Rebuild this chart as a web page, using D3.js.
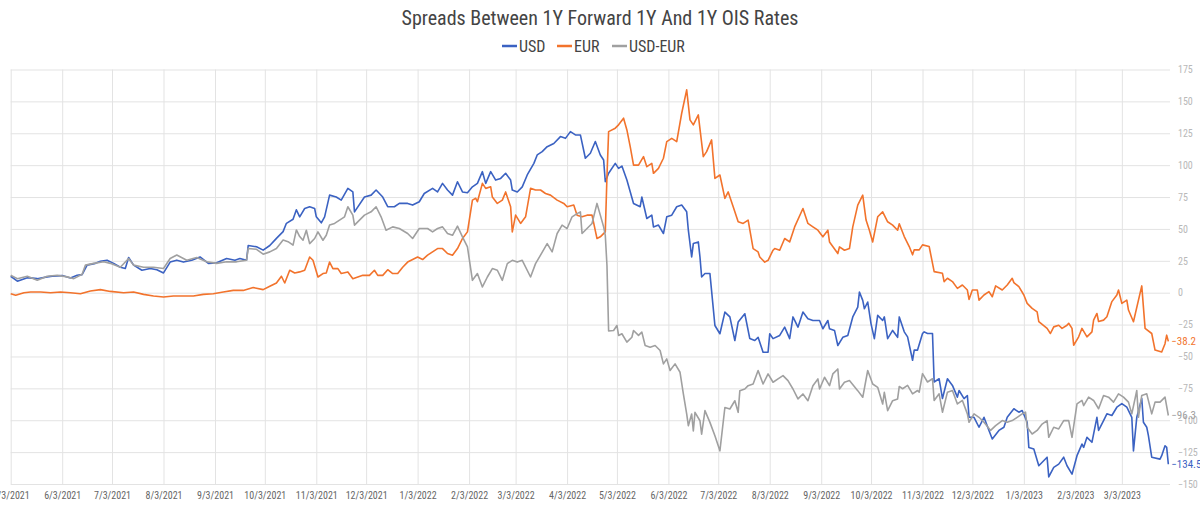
<!DOCTYPE html>
<html>
<head>
<meta charset="utf-8">
<script src="https://cdn.jsdelivr.net/npm/d3@7"></script>
<style>
  body { margin: 0; background: #fff; }
  text { font-family: "Roboto Condensed", "Liberation Sans Narrow", "DejaVu Sans Condensed", Roboto, sans-serif; }
</style>
</head>
<body>
<div class="section"></div>
<script>
// day offsets are counted from 3 May 2021
var startDay = new Date(2021, 4, 3);
var endDay = new Date(2023, 3, 1);

var seriesNames = ["USD", "EUR", "USD-EUR"];
var seriesColors = ["#3b62c2", "#f2732c", "#a0a0a0"];
var yTicks = [-150, -125, -100, -75, -50, -25, 0, 25, 50, 75, 100, 125, 150, 175];

// [day, bp]
var usd = [[0,12.9],[4,9],[10,11.8],[16,11],[22,12.4],[25,13],[31,13.4],[36,11.6],[40,13.7],[43,14.2],[46,21.6],[51,23],[54,24.7],[58,25.5],[62,23],[66,20],[69,19],[71,27.6],[74,21.6],[79,17.6],[84,19],[88,18],[92,15.5],[96,24],[100,25.5],[104,24],[109,25.5],[114,28],[119,23],[124,23.4],[130,26.8],[135,25.5],[138,26.8],[142,25.5],[143,37],[148,36],[152,33.4],[156,37],[160,42.6],[164,47.9],[166,54.4],[170,57.6],[172,65],[174,59.5],[177,66],[180,67.4],[183,66],[184,59.5],[187,54.8],[189,59.5],[192,76.5],[196,75],[199,72.6],[203,81.8],[206,79],[207,63.4],[213,75],[217,76.5],[220,80.5],[224,75],[227,67.4],[231,67.4],[234,70],[239,70],[242,68.7],[246,71.3],[249,77.8],[254,81.8],[257,79],[260,85.7],[263,80.5],[266,76.5],[269,87],[272,79],[275,78.4],[278,83],[281,85.7],[284,94.9],[286,85.7],[289,94.9],[292,88.3],[295,89.6],[298,93.6],[301,88.3],[302,80.5],[305,79],[308,83],[311,92.3],[315,101.4],[317,108],[320,110.6],[323,114.5],[327,117],[331,122.4],[334,121],[337,126.3],[340,123.7],[343,123.7],[346,105.4],[349,109.3],[352,118.5],[355,108],[357,104],[358,87],[360,93.6],[364,101.4],[366,97.5],[368,99.3],[371,88.3],[375,70],[379,67.4],[380,75],[383,58.2],[386,60.8],[387,51.6],[390,53],[393,46.4],[395,59.5],[398,60.8],[401,67.4],[404,68.7],[407,63.4],[408,49],[410,28],[411,38.5],[414,39.8],[415,28],[416,12.3],[418,15],[421,15],[424,-25.7],[427,-32.2],[430,-15.2],[433,-19],[436,-37.5],[438,-23],[442,-16.5],[445,-36],[448,-37.5],[450,-35],[453,-46.7],[456,-46.7],[457,-32.2],[459,-36],[463,-33.5],[466,-27],[469,-36],[471,-19],[474,-27],[477,-15.2],[480,-20.4],[483,-21.8],[487,-21.8],[489,-28.3],[492,-21.8],[493,-28.3],[496,-29.6],[498,-41.4],[501,-35],[504,-33.5],[507,-19],[510,-11.3],[511,0.5],[513,-6],[514,-12.6],[516,-7.3],[518,-24.4],[520,-36],[522,-17.8],[525,-21.8],[526,-19],[528,-36],[531,-29.6],[534,-35],[535,-19],[538,-30.7],[540,-34.6],[543,-53],[544,-45],[546,-45],[549,-32],[550,-30.7],[552,-32],[555,-32],[556,-70],[559,-67.5],[561,-83],[564,-67.5],[567,-72.7],[570,-81.9],[571,-76.7],[574,-83],[576,-80.6],[577,-97.7],[580,-97.7],[583,-105.5],[586,-97.7],[589,-108],[591,-114.7],[595,-108],[598,-105.5],[600,-97.7],[604,-91],[607,-93.7],[609,-92.4],[612,-101.6],[613,-121.3],[616,-122.6],[619,-135.7],[624,-129],[625,-144.4],[628,-137],[631,-134.4],[634,-129],[636,-135.7],[639,-142.3],[642,-127.8],[645,-118.7],[646,-121.3],[648,-113.4],[651,-117.3],[654,-97.7],[655,-108],[658,-100.3],[660,-95],[663,-96.3],[666,-89.8],[669,-87],[672,-89.8],[675,-97.7],[676,-124],[678,-97.7],[681,-83],[682,-101.6],[684,-105.5],[685,-112],[687,-129],[692,-130.5],[693,-127.8],[695,-120],[696,-121.3],[697,-134.5]];

var eur = [[0,-0.8],[3,-2],[8,0],[12,0.5],[18,0.5],[24,0],[30,0.5],[36,0],[42,-0.8],[48,1.3],[54,2.4],[60,1],[68,0],[74,0.5],[80,-1.3],[86,-2.6],[92,-3.4],[98,-2.6],[104,-2.6],[110,-2.6],[116,-1.3],[122,-0.8],[128,0.5],[134,1.8],[140,1.8],[146,4],[152,2.4],[156,5],[160,7.6],[163,12.9],[165,7.6],[168,17.6],[171,15.5],[174,16.3],[177,17.6],[180,28],[182,25.4],[185,12.3],[188,15],[190,15.5],[192,24],[194,18.9],[197,18.9],[199,15],[203,16.3],[206,11],[209,12.3],[212,13.6],[216,13.6],[219,17.6],[221,13.6],[224,13.6],[227,18],[230,15],[233,15],[236,20],[239,24],[242,26],[245,28],[248,26],[251,29.4],[254,32],[257,34.6],[260,34.6],[263,30.7],[266,29.4],[269,34.6],[272,42.5],[275,47.7],[278,72.6],[280,74],[281,71.3],[284,85.7],[286,81.8],[289,83],[290,75],[293,70],[296,72.6],[298,79],[299,75],[301,67.4],[302,47.7],[304,60.8],[307,54.3],[310,59.5],[313,81.8],[316,80.5],[319,80.5],[322,77.8],[325,76.5],[329,72.6],[333,70],[335,67.4],[339,68.7],[341,60.8],[344,59.5],[347,60.8],[350,60.8],[353,42.5],[355,43.8],[358,47.7],[359,91],[360,126.3],[364,129],[366,131.6],[369,136.8],[371,127.6],[373,114.5],[375,100],[378,100],[381,106.7],[383,98.8],[386,101.4],[387,93.6],[390,97.5],[393,105.4],[395,118.5],[398,121],[401,118.5],[404,140.7],[407,159],[409,135.5],[411,131.6],[414,139.4],[417,106.7],[419,110.6],[422,119.8],[424,89.6],[427,92.3],[430,74],[432,79],[435,67.4],[438,55.6],[441,54.3],[444,56.9],[447,34.6],[450,32],[451,28],[454,24],[456,25.4],[459,33.3],[460,34.6],[463,33.3],[466,42.5],[469,39.8],[472,51.6],[477,66],[480,54.3],[483,51.6],[486,49],[489,43.8],[492,49],[493,39.8],[498,30.7],[499,35.9],[502,33.3],[505,34.6],[507,51.6],[510,68.7],[513,76.5],[515,56.9],[517,49],[519,39.8],[522,59.5],[525,63.4],[528,55.6],[531,53],[534,49],[535,54],[538,44],[541,36.2],[543,29.7],[544,33.6],[547,33.6],[549,37.5],[553,36.2],[556,16.5],[561,15.2],[562,8.7],[564,11.3],[567,8.7],[570,3.4],[573,6],[576,2.1],[577,-5.3],[579,2.1],[582,2.1],[583,-5.8],[586,-1.8],[589,0.8],[591,-3.2],[593,5.3],[597,2.1],[600,6],[603,11.3],[604,7.9],[607,4.7],[610,-1.8],[612,-8.4],[615,-12.3],[618,-15],[619,-22.6],[624,-28],[626,-32],[628,-26.8],[631,-25.5],[633,-28],[636,-25.5],[637,-24],[639,-28],[640,-41.2],[643,-34.6],[645,-28],[648,-34.6],[651,-30.7],[652,-21.5],[654,-16.3],[655,-22.6],[658,-21.5],[660,-18.9],[663,-7],[666,-1.8],[667,2.1],[669,-8.4],[672,-5.8],[673,-13.6],[676,-22.8],[681,5.3],[683,-28],[687,-32],[689,-45],[693,-46.5],[695,-40],[696,-33.3],[697,-38.2]];

var usdEur = [[0,13.7],[4,11],[10,12.9],[16,9.7],[22,12.9],[28,13.7],[34,12.4],[38,11],[43,14.5],[45,21.6],[50,23],[56,24.2],[60,23],[66,20],[71,26.8],[74,21.6],[80,20],[86,20],[92,19],[96,26.8],[100,29.5],[106,25.5],[112,27.6],[118,24.2],[124,23],[130,24.2],[136,24.2],[142,25.5],[143,34.7],[148,34],[152,30.2],[156,32],[160,34.7],[164,41.3],[167,40],[170,37.3],[172,49.2],[174,44],[176,41.1],[178,49],[180,38.5],[183,42.5],[185,47.7],[188,41.1],[190,45],[192,53],[195,54.3],[198,56.9],[201,59.5],[203,67.4],[206,60.8],[207,53],[210,56.9],[213,60.8],[217,63.4],[220,67.4],[223,59.5],[226,49],[230,51.6],[234,50.3],[239,46.4],[242,42.5],[246,50.3],[251,50.3],[254,47.7],[257,50.3],[260,51.6],[263,46.4],[266,45],[269,52.2],[272,43.8],[275,35.9],[278,9.7],[281,15],[284,4.5],[287,12.3],[290,18.9],[293,17.6],[296,9.7],[299,22.8],[302,25.4],[305,24],[308,25.4],[313,12.3],[316,22.8],[319,29.4],[323,38.5],[326,32],[329,46.4],[332,53],[335,50.3],[338,59.5],[341,62],[343,63.4],[344,46.4],[347,50.3],[350,54.3],[353,70],[355,60.8],[357,51.6],[358,45],[359,21.5],[360,-30],[363,-29.6],[365,-25.7],[366,-33.5],[368,-32.2],[371,-38.8],[374,-34.9],[375,-29.6],[378,-33.5],[380,-30.9],[382,-41.4],[385,-42.7],[388,-41.4],[391,-45.3],[393,-55.8],[395,-51.9],[397,-61],[400,-55.8],[403,-62.4],[405,-79.4],[407,-95.1],[408,-104.3],[410,-95.1],[411,-108.4],[412,-93.8],[415,-100.4],[416,-111],[418,-92.5],[421,-101.7],[424,-112.2],[427,-124],[430,-90],[433,-91.2],[436,-84.7],[438,-93.8],[439,-76.8],[442,-75.5],[444,-72.9],[447,-71.6],[450,-61],[453,-71.6],[456,-63.7],[459,-70.2],[462,-67.6],[465,-65],[468,-68.9],[471,-75.5],[474,-83.3],[477,-79.4],[480,-84.7],[483,-72.9],[486,-67.6],[487,-75.5],[490,-66.3],[493,-72.9],[495,-63.7],[498,-59.8],[499,-75.5],[502,-70.2],[505,-68.9],[510,-76.8],[513,-82],[516,-61],[519,-71.6],[522,-74.2],[525,-87.3],[526,-78.1],[528,-92.5],[531,-84.7],[534,-83.3],[535,-73.5],[537,-75.3],[540,-72.7],[543,-79.3],[546,-76.7],[547,-78],[549,-63.5],[552,-70],[555,-67.5],[556,-84.5],[559,-79.3],[561,-93.7],[564,-78],[567,-76.7],[570,-87.2],[573,-84.5],[576,-95],[577,-101.6],[580,-95],[583,-97.7],[586,-101.6],[590,-108],[593,-104.2],[597,-100.3],[600,-101.6],[603,-100.3],[606,-97.7],[609,-95],[611,-93.7],[612,-105.5],[615,-110.8],[618,-108],[621,-103],[624,-100.3],[625,-113.4],[628,-105.5],[631,-106.8],[634,-100.3],[637,-100.3],[639,-113.4],[642,-87.2],[645,-84.5],[646,-88.5],[649,-81.9],[652,-84.5],[655,-91],[658,-80.6],[661,-81.9],[664,-85.8],[667,-79.3],[670,-81.9],[673,-85.8],[675,-95],[678,-76.7],[679,-97.7],[681,-80.6],[684,-79.3],[687,-95],[689,-85.8],[692,-85.8],[695,-81.9],[697,-96.3]];

var allSeries = [usd, eur, usdEur];

var width = 1200;
var height = 505;

var svg = d3.select(".section")
    .append("svg")
    .attr("width", width)
    .attr("height", height);

var x = d3.scaleTime().domain([startDay, endDay]).range([10.7, 1170]);
var y = d3.scaleLinear().domain([-150, 175]).range([484, 69.5]);

// monthly ticks on the 3rd
var xTicks = d3.timeMonths(new Date(2021, 4, 1), new Date(2023, 3, 1)).map(function(d){
    return d3.timeDay.offset(d, 2);
});

// horizontal grid + right labels
var yAxis = d3.axisRight(y).tickValues(yTicks).tickSize(-(1170 - 10.7)).tickPadding(8);
var gy = svg.append("g").attr("transform", "translate(1170,0)").call(yAxis);
gy.select(".domain").remove();
gy.selectAll(".tick line").attr("stroke", "#e3e3e3").attr("stroke-width", 1);
gy.selectAll(".tick text").attr("fill", "#b8b8b8").style("font-size", "10px");

// vertical grid + bottom labels
var xAxis = d3.axisBottom(x).tickValues(xTicks).tickFormat(d3.timeFormat("%-m/%-d/%Y"))
    .tickSize(-(484 - 69.5)).tickPadding(8);
var gx = svg.append("g").attr("transform", "translate(0,484)").call(xAxis);
gx.select(".domain").remove();
gx.selectAll(".tick line").attr("stroke", "#e3e3e3").attr("stroke-width", 1);
gx.selectAll(".tick text").attr("fill", "#666").style("font-size", "10px");

var line = d3.line()
    .x(function(d){ return x(d3.timeDay.offset(startDay, d[0])); })
    .y(function(d){ return y(d[1]); });

svg.selectAll("path.series").data(allSeries).enter()
    .append("path")
    .attr("class", "series")
    .attr("d", line)
    .attr("fill", "none")
    .attr("stroke", function(d, i){ return seriesColors[i]; })
    .attr("stroke-width", 1.6)
    .attr("stroke-linejoin", "round");

// last value labels
svg.selectAll("text.last").data(allSeries).enter()
    .append("text")
    .attr("class", "last")
    .attr("x", function(d){ return x(d3.timeDay.offset(startDay, d[d.length - 1][0])) + 3; })
    .attr("y", function(d){ return y(d[d.length - 1][1]); })
    .attr("dy", "0.35em")
    .attr("fill", function(d, i){ return seriesColors[i]; })
    .style("font-size", "11px")
    .text(function(d){ return d3.format(".1f")(d[d.length - 1][1]); });

// title
svg.append("text")
    .attr("x", 600).attr("y", 25)
    .attr("text-anchor", "middle")
    .attr("fill", "#444")
    .style("font-size", "20px")
    .text("Spreads Between 1Y Forward 1Y And 1Y OIS Rates");

// legend
var legendX = [502, 557, 612];
var legend = svg.selectAll("g.legend").data(seriesNames).enter()
    .append("g")
    .attr("class", "legend")
    .attr("transform", function(d, i){ return "translate(" + legendX[i] + ",46)"; });
legend.append("line")
    .attr("x1", 0).attr("x2", 15).attr("y1", 0).attr("y2", 0)
    .attr("stroke", function(d, i){ return seriesColors[i]; })
    .attr("stroke-width", 2.5);
legend.append("text")
    .attr("x", 17).attr("dy", "0.35em")
    .attr("fill", "#444")
    .style("font-size", "16px")
    .text(function(d){ return d; });
</script>
</body>
</html>
